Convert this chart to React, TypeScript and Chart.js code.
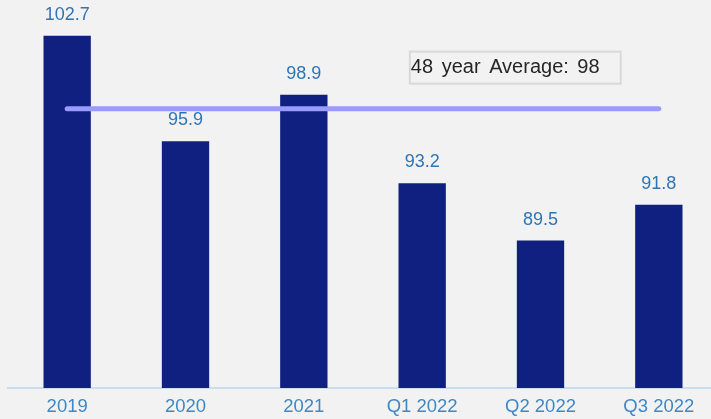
import React, { useEffect, useRef } from "react";
import { Chart, registerables } from "chart.js";

Chart.register(...registerables);

const categories = ["2019", "2020", "2021", "Q1 2022", "Q2 2022", "Q3 2022"];
const values = [102.7, 95.9, 98.9, 93.2, 89.5, 91.8];
const averageValue = 98;
const averageLine = [98, 98, 98, 98, 98, 98];
const averageLabel = "48 year Average: 98";
const yMin = 80;
const yMax = 105;

const BG = "#f2f2f2";
const FONT = '"Liberation Sans", Arial, sans-serif';

const bgPlugin = {
  id: "bg",
  beforeDraw(chart: any) {
    const { ctx, width, height } = chart;
    ctx.save();
    ctx.fillStyle = BG;
    ctx.fillRect(0, 0, width, height);
    ctx.restore();
  },
};

const valueLabelPlugin = {
  id: "valueLabels",
  afterDatasetsDraw(chart: any) {
    const { ctx } = chart;
    const meta = chart.getDatasetMeta(1);
    ctx.save();
    ctx.font = "18px " + FONT;
    ctx.fillStyle = "#2f75b5";
    ctx.textAlign = "center";
    ctx.textBaseline = "middle";
    meta.data.forEach((bar: any, i: number) => {
      ctx.fillText(values[i].toFixed(1), bar.x, bar.y - 21);
    });
    ctx.restore();
  },
};

const avgBoxPlugin = {
  id: "avgBox",
  afterDraw(chart: any) {
    const { ctx, chartArea } = chart;
    const yS = chart.scales.y;
    const lineY = yS.getPixelForValue(averageValue);
    const w = chartArea.right - chartArea.left;
    const x0 = chartArea.left + w * 0.566;
    const x1 = chartArea.left + w * 0.863;
    const top = lineY - 57;
    const bottom = lineY - 25;
    ctx.save();
    ctx.strokeStyle = "#d9d9d9";
    ctx.lineWidth = 2;
    ctx.strokeRect(x0, top, x1 - x0, bottom - top);
    ctx.font = "20px " + FONT;
    try {
      (ctx as any).wordSpacing = "3px";
    } catch (e) {}
    ctx.fillStyle = "#262626";
    ctx.textAlign = "left";
    ctx.textBaseline = "alphabetic";
    ctx.fillText(averageLabel, x0 + 1, lineY - 36);
    ctx.restore();
  },
};

export default function App() {
  const ref = useRef<HTMLCanvasElement | null>(null);

  useEffect(() => {
    document.body.style.margin = "0";
    document.body.style.background = BG;
    const chart = new Chart(ref.current as HTMLCanvasElement, {
      type: "bar",
      data: {
        labels: categories,
        datasets: [
          {
            type: "line",
            data: averageLine,
            borderColor: "#9b9bfb",
            borderWidth: 5,
            borderCapStyle: "round",
            pointRadius: 0,
            order: 0,
          } as any,
          {
            type: "bar",
            data: values,
            backgroundColor: "#0f2080",
            borderWidth: 0,
            barPercentage: 0.8,
            categoryPercentage: 0.5,
            order: 1,
          } as any,
        ],
      },
      options: {
        animation: false,
        responsive: false,
        maintainAspectRatio: false,
        layout: { padding: { left: 8, right: 0, top: 0, bottom: 0 } },
        plugins: {
          legend: { display: false },
          tooltip: { enabled: false },
        },
        scales: {
          x: {
            grid: { display: false, drawTicks: false },
            border: { display: true, color: "#c9def1", width: 2 },
            ticks: {
              color: "#3f88c5",
              font: { family: FONT, size: 18.5 },
              padding: 8,
              maxRotation: 0,
            },
            afterFit: (scale: any) => {
              scale.height = 31;
            },
          },
          y: {
            display: false,
            min: yMin,
            max: yMax,
          },
        },
      },
      plugins: [bgPlugin, valueLabelPlugin, avgBoxPlugin],
    });
    return () => chart.destroy();
  }, []);

  return (
    <div style={{ position: "relative", width: 711, height: 419, overflow: "hidden", background: BG }}>
      <canvas ref={ref} width={718} height={419} style={{ position: "absolute", left: 0, top: 0, width: 718, height: 419 }} />
    </div>
  );
}
